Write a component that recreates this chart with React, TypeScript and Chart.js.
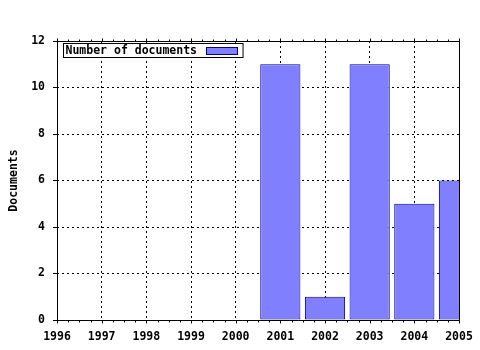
import React, { useEffect, useRef } from "react";
import { Chart, registerables } from "chart.js";

Chart.register(...registerables);

const years = [2001, 2002, 2003, 2004, 2005];
const documents = [11, 1, 11, 5, 6];
const xMin = 1996;
const xMax = 2005;
const yMin = 0;
const yMax = 12;
const yStep = 2;
const seriesLabel = "Number of documents";
const yTitle = "Documents";

const FONT = "'DejaVu Sans Mono', monospace";
const FSIZE = 11.5;
const FILL = "#8080ff";
const EDGE = "#000090";

const framePlugin = {
  id: "frameAndMinor",
  afterDatasetsDraw(chart: any) {
    const { ctx, chartArea: a } = chart;
    const xs = chart.scales.x;
    ctx.save();
    ctx.strokeStyle = "#000";
    ctx.lineWidth = 1;
    ctx.setLineDash([]);
    ctx.beginPath();
    const L = Math.round(a.left) + 0.5;
    const R = Math.round(a.right) + 0.5;
    const T = Math.round(a.top) + 0.5;
    const B = Math.round(a.bottom) + 0.5;
    ctx.rect(L, T, R - L, B - T);
    for (let v = xMin; v <= xMax + 1e-9; v += 0.25) {
      const px = Math.round(xs.getPixelForValue(v)) + 0.5;
      const isMajor = Math.abs(v - Math.round(v)) < 1e-6;
      const len = isMajor ? 3 : 2;
      ctx.moveTo(px, B);
      ctx.lineTo(px, B + len);
      ctx.moveTo(px, T);
      ctx.lineTo(px, T - len);
    }
    ctx.stroke();
    ctx.restore();
  },
  afterDraw(chart: any) {
    const { ctx, chartArea: a } = chart;
    const ds = chart.data.datasets[0];
    ctx.save();
    ctx.font = `bold ${FSIZE}px ${FONT}`;
    const tw = ctx.measureText(ds.label).width;
    const x0 = Math.round(a.left) + 6.5;
    const y0 = Math.round(a.top) + 2.5;
    const swW = 31;
    const w = 2 + tw + 9 + swW + 6;
    const h = 14;
    ctx.fillStyle = "#fff";
    ctx.fillRect(x0, y0, w, h);
    ctx.strokeStyle = "#000";
    ctx.lineWidth = 1;
    ctx.strokeRect(x0, y0, w, h);
    ctx.fillStyle = "#000";
    ctx.textBaseline = "middle";
    ctx.textAlign = "left";
    ctx.fillText(ds.label, x0 + 2, y0 + h / 2 + 0.5);
    const sx = Math.round(x0 + 2 + tw + 9) + 0.5;
    ctx.fillStyle = ds.backgroundColor;
    ctx.fillRect(sx, y0 + 4, swW, 7);
    ctx.strokeStyle = ds.borderColor;
    ctx.strokeRect(sx, y0 + 4, swW, 7);
    ctx.restore();
  },
};

export default function App() {
  const ref = useRef<HTMLCanvasElement>(null);
  useEffect(() => {
    document.body.style.margin = "0";
    const chart = new Chart(ref.current!, {
      type: "bar",
      data: {
        datasets: [
          {
            label: seriesLabel,
            data: years.map((y, i) => ({ x: y, y: documents[i] })),
            backgroundColor: FILL,
            borderColor: EDGE,
            borderWidth: 1,
            borderSkipped: false,
            barPercentage: 0.9,
            categoryPercentage: 1,
            clip: 0,
          } as any,
        ],
      },
      options: {
        responsive: false,
        animation: false,
        layout: { padding: { top: 41, right: 21, left: 0, bottom: 0 } },
        plugins: { legend: { display: false }, tooltip: { enabled: false } },
        scales: {
          x: {
            type: "linear",
            min: xMin,
            max: xMax,
            offset: false,
            ticks: {
              stepSize: 1,
              color: "#000",
              padding: 10,
              font: { family: FONT, size: FSIZE, weight: "bold" },
              callback: (v: any) => String(v),
              maxRotation: 0,
              autoSkip: false,
            },
            grid: {
              offset: false,
              color: "#000",
              lineWidth: 1,
              drawTicks: false,
              tickLength: 4,
            },
            border: { display: false, dash: [2, 3] },
            afterFit: (s: any) => {
              s.height = 30;
              s.paddingLeft = 0;
              s.paddingRight = 0;
            },
          },
          y: {
            min: yMin,
            max: yMax,
            ticks: {
              stepSize: yStep,
              color: "#000",
              padding: 8,
              font: { family: FONT, size: FSIZE, weight: "bold" },
            },
            grid: {
              color: "#000",
              lineWidth: 1,
              tickLength: 4,
              tickColor: "#000",
              tickBorderDash: [],
            },
            border: { display: false, dash: [2, 3] },
            title: {
              display: true,
              text: yTitle,
              color: "#000",
              padding: { top: 7, bottom: 0 },
              font: { family: FONT, size: FSIZE, weight: "bold" },
            },
            afterFit: (s: any) => {
              s.width = 57;
              s.paddingTop = 0;
              s.paddingBottom = 0;
            },
          },
        },
      },
      plugins: [framePlugin],
    });
    return () => chart.destroy();
  }, []);
  return <canvas ref={ref} width={480} height={350} style={{ display: "block" }} />;
}
